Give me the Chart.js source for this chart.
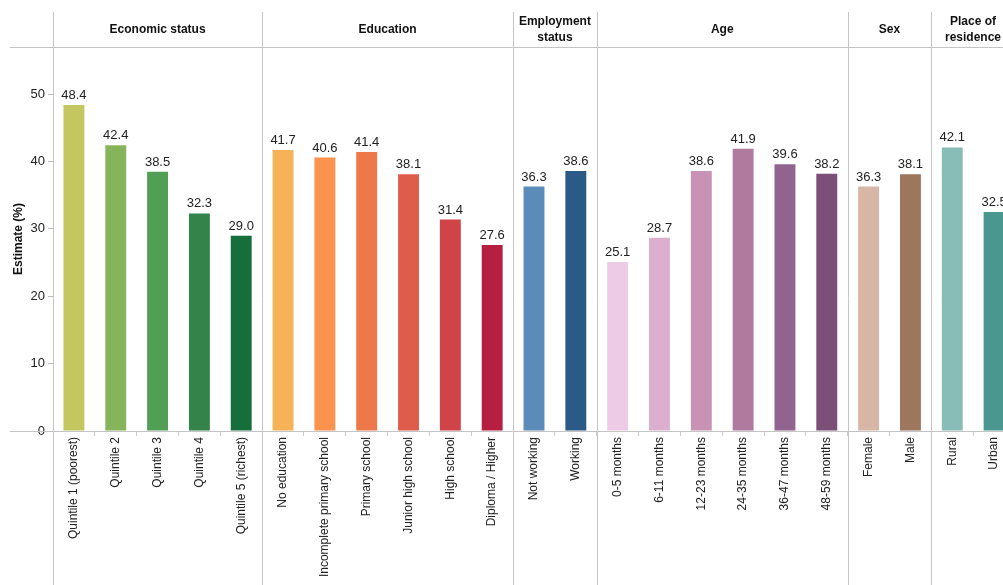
<!DOCTYPE html>
<html>
<head>
<meta charset="utf-8">
<script src="https://cdn.jsdelivr.net/npm/chart.js@4"></script>
<style>
  html, body { margin: 0; padding: 0; overflow: hidden; background: #fff; }
  #wrap { width: 1015px; height: 585px; }
</style>
</head>
<body>
<div id="wrap"><canvas id="chart" width="1015" height="585"></canvas></div>
<script>
// Categories, grouped by panel
const groupNames = [['Economic status'], ['Education'], ['Employment', 'status'], ['Age'], ['Sex'], ['Place of', 'residence']];
const groupSizes = [5, 6, 2, 6, 2, 2];

const categories = [
    'Quintile 1 (poorest)', 'Quintile 2', 'Quintile 3', 'Quintile 4', 'Quintile 5 (richest)',
    'No education', 'Incomplete primary school', 'Primary school', 'Junior high school', 'High school', 'Diploma / Higher',
    'Not working', 'Working',
    '0-5 months', '6-11 months', '12-23 months', '24-35 months', '36-47 months', '48-59 months',
    'Female', 'Male',
    'Rural', 'Urban'
];

const estimates = [
    48.4, 42.4, 38.5, 32.3, 29.0,
    41.7, 40.6, 41.4, 38.1, 31.4, 27.6,
    36.3, 38.6,
    25.1, 28.7, 38.6, 41.9, 39.6, 38.2,
    36.3, 38.1,
    42.1, 32.5
];

const barColors = [
    '#c4c75f', '#86b45a', '#519f55', '#33834b', '#166e3a',
    '#f6b256', '#fb924d', '#ef784b', '#e05c4a', '#d04347', '#b71f40',
    '#5b8bb8', '#2b5a86',
    '#edcae5', '#dcafcf', '#c892b5', '#b07a9e', '#91638f', '#7b4f77',
    '#d8b6a6', '#9c775e',
    '#87bdb6', '#49978f'
];

const yTicks = [0, 10, 20, 30, 40, 50];

const FONT = '"Liberation Sans", Arial, sans-serif';
const LINE = '#c4c4c4';

// index of the first category in each panel
const groupStarts = [];
let acc = 0;
groupSizes.forEach(n => { groupStarts.push(acc); acc += n; });

const panelPlugin = {
    id: 'panels',
    afterDraw(chart) {
        const ctx = chart.ctx;
        const x = chart.scales.x;
        const area = chart.chartArea;
        const slot = x.getPixelForValue(1) - x.getPixelForValue(0);
        const edgeOf = i => x.getPixelForValue(i) - slot / 2;

        ctx.save();
        ctx.strokeStyle = LINE;
        ctx.lineWidth = 1;

        // top and bottom horizontal lines
        ctx.beginPath();
        ctx.moveTo(10, Math.round(area.top) + 0.5);
        ctx.lineTo(chart.width, Math.round(area.top) + 0.5);
        ctx.moveTo(10, Math.round(area.bottom) + 0.5);
        ctx.lineTo(chart.width, Math.round(area.bottom) + 0.5);
        ctx.stroke();

        // panel separators
        ctx.beginPath();
        groupStarts.forEach(s => {
            const px = Math.round(edgeOf(s)) + 0.5;
            ctx.moveTo(px, 12);
            ctx.lineTo(px, chart.height);
        });
        ctx.stroke();

        // panel headers
        ctx.fillStyle = '#111';
        ctx.font = 'bold 12px ' + FONT;
        ctx.textAlign = 'center';
        ctx.textBaseline = 'middle';
        groupNames.forEach((lines, g) => {
            const left = edgeOf(groupStarts[g]);
            const right = left + groupSizes[g] * slot;
            let cx = (left + right) / 2;
            const w = Math.max(...lines.map(l => ctx.measureText(l).width));
            cx = Math.min(cx, 1001 - w / 2);
            if (lines.length === 1) {
                ctx.fillText(lines[0], cx, 30);
            } else {
                ctx.fillText(lines[0], cx, 22);
                ctx.fillText(lines[1], cx, 38);
            }
        });

        // value labels
        const meta = chart.getDatasetMeta(0);
        ctx.font = '13px ' + FONT;
        ctx.fillStyle = '#222';
        ctx.textBaseline = 'bottom';
        meta.data.forEach((bar, i) => {
            ctx.fillText(estimates[i].toFixed(1), bar.x, bar.y - 3);
        });
        ctx.restore();
    }
};

const ctx = document.getElementById('chart').getContext('2d');
new Chart(ctx, {
    type: 'bar',
    data: {
        labels: categories,
        datasets: [{
            data: estimates,
            backgroundColor: barColors,
            borderWidth: 0,
            barPercentage: 0.5,
            categoryPercentage: 1.0
        }]
    },
    options: {
        responsive: false,
        animation: false,
        layout: { padding: { top: 47, left: 0, right: 0, bottom: 0 } },
        plugins: {
            legend: { display: false },
            tooltip: { enabled: false }
        },
        scales: {
            x: {
                offset: true,
                grid: {
                    offset: true,
                    drawOnChartArea: false,
                    tickLength: 5,
                    tickColor: '#cccccc'
                },
                border: { display: false },
                ticks: {
                    autoSkip: false,
                    minRotation: 90,
                    maxRotation: 90,
                    padding: 1,
                    color: '#222',
                    font: { family: FONT, size: 12 }
                },
                afterFit(scale) { scale.height = 154; }
            },
            y: {
                min: 0,
                max: 57,
                afterBuildTicks(scale) {
                    scale.ticks = yTicks.map(v => ({ value: v }));
                },
                grid: {
                    drawOnChartArea: false,
                    tickLength: 5,
                    tickColor: '#bbbbbb'
                },
                border: { display: false },
                ticks: {
                    padding: 3,
                    color: '#222',
                    font: { family: FONT, size: 13 }
                },
                title: {
                    display: true,
                    text: 'Estimate (%)',
                    color: '#111',
                    padding: { top: 11, bottom: 4 },
                    font: { family: FONT, size: 12, weight: 'bold' }
                },
                afterFit(scale) { scale.width = 53; }
            }
        }
    },
    plugins: [panelPlugin]
});
</script>
</body>
</html>
